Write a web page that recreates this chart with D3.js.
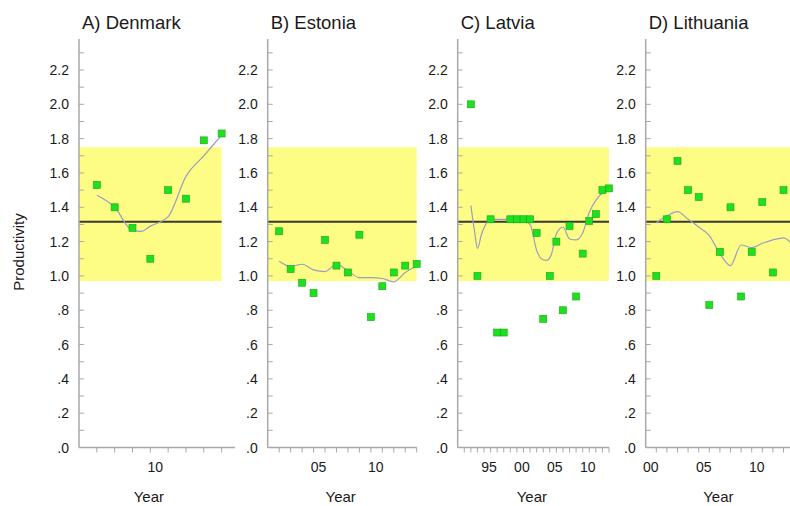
<!DOCTYPE html>
<html>
<head>
<meta charset="utf-8">
<script src="https://cdn.jsdelivr.net/npm/d3@7"></script>
<style>
  html, body { margin: 0; padding: 0; background: #fff; }
  svg { display: block; font-family: "Liberation Sans", Arial, Helvetica, sans-serif; }
</style>
</head>
<body>
<svg id="chart" width="790" height="506"></svg>
<script>
// ---------------- DATA ----------------
const panelTitles = ["A) Denmark", "B) Estonia", "C) Latvia", "D) Lithuania"];
const yAxisTitle = "Productivity";
const xAxisTitle = "Year";

const bandLow = 0.97;
const bandHigh = 1.75;
const referenceMean = 1.315;

// Denmark
const denmarkYears  = [2007, 2008, 2009, 2010, 2011, 2012, 2013, 2014];
const denmarkValues = [1.53, 1.40, 1.28, 1.10, 1.50, 1.45, 1.79, 1.83];
const denmarkSmoothYears = [2007, 2008, 2009, 2009.5, 2010, 2011, 2012, 2013, 2014];
const denmarkSmooth      = [1.47, 1.40, 1.265, 1.26, 1.29, 1.345, 1.58, 1.70, 1.82];
const denmarkTickYears  = [2010];
const denmarkTickLabels = ["10"];

// Estonia
const estoniaYears  = [2002, 2003, 2004, 2005, 2006, 2007, 2008, 2009, 2010, 2011, 2012, 2013, 2014];
const estoniaValues = [1.26, 1.04, 0.96, 0.90, 1.21, 1.06, 1.02, 1.24, 0.76, 0.94, 1.02, 1.06, 1.07];
const estoniaSmoothYears = [2002, 2003, 2004, 2005, 2006, 2007, 2008, 2009, 2010, 2011, 2012, 2013, 2014];
const estoniaSmooth      = [1.086, 1.056, 1.068, 1.035, 1.025, 1.068, 1.03, 0.99, 0.99, 0.985, 0.965, 1.02, 1.058];
const estoniaTickYears  = [2005, 2010];
const estoniaTickLabels = ["05", "10"];

// Latvia (no value for 1995)
const latviaYears  = [1993, 1994, 1996, 1997, 1998, 1999, 2000, 2001, 2002, 2003, 2004, 2005, 2006, 2007, 2008, 2009, 2010, 2011, 2012, 2013, 2014];
const latviaValues = [2.00, 1.00, 1.33, 0.67, 0.67, 1.33, 1.33, 1.33, 1.33, 1.25, 0.75, 1.00, 1.20, 0.80, 1.29, 0.88, 1.13, 1.32, 1.36, 1.50, 1.51];
const latviaSmoothYears = [1993, 1993.6, 1994, 1994.6, 1995, 1996, 1997, 1998, 1999, 2000, 2001, 2002, 2003, 2003.7, 2004.5, 2005.2, 2006, 2007, 2008, 2009, 2010, 2011, 2012, 2013, 2014];
const latviaSmooth      = [1.41, 1.25, 1.16, 1.24, 1.28, 1.33, 1.33, 1.33, 1.33, 1.33, 1.32, 1.30, 1.15, 1.10, 1.09, 1.12, 1.245, 1.285, 1.215, 1.21, 1.25, 1.37, 1.44, 1.485, 1.51];
const latviaTickYears  = [1995, 2000, 2005, 2010];
const latviaTickLabels = ["95", "00", "05", "10"];

// Lithuania
const lithuaniaYears  = [2001, 2002, 2003, 2004, 2005, 2006, 2007, 2008, 2009, 2010, 2011, 2012, 2013];
const lithuaniaValues = [1.00, 1.33, 1.67, 1.50, 1.46, 0.83, 1.14, 1.40, 0.88, 1.14, 1.43, 1.02, 1.50];
const lithuaniaSmoothYears = [2001, 2002, 2003, 2004, 2005, 2006, 2007, 2008, 2009, 2010, 2011, 2012, 2013, 2014];
const lithuaniaSmooth      = [1.31, 1.35, 1.375, 1.33, 1.285, 1.235, 1.13, 1.06, 1.18, 1.165, 1.19, 1.21, 1.222, 1.17];
const lithuaniaTickYears  = [2000, 2005, 2010];
const lithuaniaTickLabels = ["00", "05", "10"];

const yMajorTicks = [0, 0.2, 0.4, 0.6, 0.8, 1.0, 1.2, 1.4, 1.6, 1.8, 2.0, 2.2];
const yMinorTicks = [0.1, 0.3, 0.5, 0.7, 0.9, 1.1, 1.3, 1.5, 1.7, 1.9, 2.1, 2.3];

// ---------------- LAYOUT ----------------
const panels = [
  { title: panelTitles[0], years: denmarkYears, values: denmarkValues, sYears: denmarkSmoothYears, smooth: denmarkSmooth,
    tickYears: denmarkTickYears, tickLabels: denmarkTickLabels, domain: [2006, 2014.75], range: [79, 235], bandEnd: 2014 },
  { title: panelTitles[1], years: estoniaYears, values: estoniaValues, sYears: estoniaSmoothYears, smooth: estoniaSmooth,
    tickYears: estoniaTickYears, tickLabels: estoniaTickLabels, domain: [2001, 2014], range: [267.7, 416.7], bandEnd: 2014 },
  { title: panelTitles[2], years: latviaYears, values: latviaValues, sYears: latviaSmoothYears, smooth: latviaSmooth,
    tickYears: latviaTickYears, tickLabels: latviaTickLabels, domain: [1991, 2014], range: [457.7, 609], bandEnd: 2014 },
  { title: panelTitles[3], years: lithuaniaYears, values: lithuaniaValues, sYears: lithuaniaSmoothYears, smooth: lithuaniaSmooth,
    tickYears: lithuaniaTickYears, tickLabels: lithuaniaTickLabels, domain: [2000, 2014], range: [645.7, 794.1], bandEnd: 2014 }
];

const svg = d3.select("#chart");
const y = d3.scaleLinear().domain([0, 2.2]).range([447.5, 70]);
const yTop = 2.38;

const axisColor = "#a8a8a8";
const textColor = "#1a1a1a";
const fmtY = v => d3.format(".1f")(v).replace(/^0\./, ".");

panels.forEach(p => {
  const x = d3.scaleLinear().domain(p.domain).range(p.range);
  const g = svg.append("g");
  const x0 = x(p.domain[0]);
  const xb = x(p.bandEnd);

  // yellow band
  g.append("rect")
    .attr("x", x0).attr("width", xb - x0)
    .attr("y", y(bandHigh)).attr("height", y(bandLow) - y(bandHigh))
    .attr("fill", "#fdfd86");

  // mean line
  g.append("line")
    .attr("x1", x0).attr("x2", xb)
    .attr("y1", y(referenceMean)).attr("y2", y(referenceMean))
    .attr("stroke", "#383838").attr("stroke-width", 2);

  // smooth line
  const line = d3.line().x((d, i) => x(p.sYears[i])).y(d => y(d)).curve(d3.curveMonotoneX);
  g.append("path").datum(p.smooth)
    .attr("d", line)
    .attr("fill", "none").attr("stroke", "#9c9cc4").attr("stroke-width", 1.2);

  // points
  const s = 7;
  g.selectAll("rect.pt").data(p.values).enter().append("rect")
    .attr("class", "pt")
    .attr("x", (d, i) => x(p.years[i]) - s / 2)
    .attr("y", d => y(d) - s / 2)
    .attr("width", s).attr("height", s)
    .attr("fill", "#1fe01f").attr("stroke", "#12a812").attr("stroke-width", 0.6);

  // y axis
  g.append("line")
    .attr("x1", x0).attr("x2", x0)
    .attr("y1", y(0)).attr("y2", y(yTop))
    .attr("stroke", axisColor).attr("stroke-width", 1.5);
  yMajorTicks.concat(yMinorTicks).forEach(v => {
    g.append("line")
      .attr("x1", x0).attr("x2", x0 + 5)
      .attr("y1", y(v)).attr("y2", y(v))
      .attr("stroke", axisColor).attr("stroke-width", 1);
  });
  yMajorTicks.forEach(v => {
    g.append("text")
      .attr("x", x0 - 10).attr("y", y(v)).attr("dy", "0.36em")
      .attr("text-anchor", "end")
      .attr("font-size", 14).attr("fill", textColor)
      .text(fmtY(v));
  });

  // x axis
  const xEnd = p.range[1];
  g.append("line")
    .attr("x1", x0).attr("x2", xEnd)
    .attr("y1", y(0)).attr("y2", y(0))
    .attr("stroke", axisColor).attr("stroke-width", 1.5);
  d3.range(p.domain[0] + 1, Math.floor(p.domain[1]) + 1).forEach(t => {
    g.append("line")
      .attr("x1", x(t)).attr("x2", x(t))
      .attr("y1", y(0)).attr("y2", y(0) + 5)
      .attr("stroke", axisColor).attr("stroke-width", 1);
  });
  p.tickYears.forEach((t, i) => {
    g.append("text")
      .attr("x", x(t) + 5).attr("y", 471.5)
      .attr("text-anchor", "middle")
      .attr("font-size", 14).attr("fill", textColor)
      .text(p.tickLabels[i]);
  });

  // x title
  g.append("text")
    .attr("x", (x0 + xb) / 2 - 1.5).attr("y", 501.5)
    .attr("text-anchor", "middle")
    .attr("font-size", 15).attr("fill", textColor)
    .text(xAxisTitle);

  // panel title
  g.append("text")
    .attr("x", x0 + 3).attr("y", 28.5)
    .attr("font-size", 18.5).attr("fill", textColor)
    .text(p.title);
});

// y axis title
svg.append("text")
  .attr("transform", "translate(23.5,252) rotate(-90)")
  .attr("text-anchor", "middle")
  .attr("font-size", 15).attr("fill", textColor)
  .text(yAxisTitle);
</script>
</body>
</html>
